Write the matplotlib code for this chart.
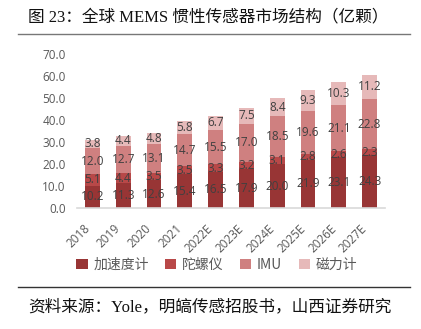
import matplotlib.pyplot as plt
import numpy as np

years = ['2018', '2019', '2020', '2021', '2022E', '2023E', '2024E', '2025E', '2026E', '2027E']
accel = [10.2, 11.3, 12.6, 15.4, 16.5, 17.9, 20.0, 21.9, 23.1, 24.3]
gyro = [5.1, 4.4, 3.5, 3.5, 3.3, 3.2, 3.1, 2.8, 2.6, 2.3]
imu = [12.0, 12.7, 13.1, 14.7, 15.5, 17.0, 18.5, 19.6, 21.1, 22.8]
mag = [3.8, 4.4, 4.8, 5.8, 6.7, 7.5, 8.4, 9.3, 10.3, 11.2]
names = ['加速度计', '陀螺仪', 'IMU', '磁力计']
colours = ['#983535', '#b84848', '#cf8080', '#e6b9b9']

cjk = ['Noto Sans CJK SC', 'DejaVu Sans']
serif_cjk = ['Liberation Serif', 'Noto Sans CJK SC']

fig = plt.figure(figsize=(4.21, 3.29), dpi=100)
ax = fig.add_axes([77/421, 121/329, 308/421, 154/329])

x = np.arange(len(years))
bottom = np.zeros(len(years))
for vals, name, col in zip([accel, gyro, imu, mag], names, colours):
    vals = np.array(vals)
    ax.bar(x, vals, 0.48, bottom=bottom, color=col, label=name)
    for xi, b, v in zip(x, bottom, vals):
        ax.text(xi, b + v / 2, f'{v:.1f}', ha='center', va='center',
                fontsize=8.5, color='#404040', family='Open Sans')
    bottom = bottom + vals

ax.set_xlim(-0.5, 9.5)
ax.set_ylim(0, 70)
ax.set_yticks(np.arange(0, 71, 10))
ax.set_yticklabels([f'{v:.1f}' for v in np.arange(0, 71, 10)],
                   fontsize=8.5, color='#595959', family='Open Sans')
ax.set_xticks(x)
ax.set_xticklabels(years, rotation=45, ha='right', fontsize=8.5,
                   color='#595959', family='Open Sans')
ax.tick_params(axis='both', length=0)
ax.tick_params(axis='x', pad=10)
ax.tick_params(axis='y', pad=8)
for s in ['top', 'right', 'left']:
    ax.spines[s].set_visible(False)
ax.spines['bottom'].set_color('#d9d9d9')
ax.spines['bottom'].set_linewidth(1.2)

fig.legend(loc='center', bbox_to_anchor=(0.515, 1 - 265/329), ncol=4, frameon=False,
           prop={'family': cjk, 'size': 10}, labelcolor='#595959',
           handlelength=0.8, handleheight=0.8, handletextpad=0.4, columnspacing=1.2)

fig.text(28/421, 1 - 17/329, '图 23：全球 MEMS 惯性传感器市场结构（亿颗）',
         ha='left', va='center', fontsize=12, family=serif_cjk, color='#111111')
fig.add_artist(plt.Line2D([18/421, 410/421], [1 - 34/329, 1 - 34/329],
                          color='#777777', lw=1.0))
fig.add_artist(plt.Line2D([18/421, 410/421], [1 - 287/329, 1 - 287/329],
                          color='#333333', lw=1.0))
fig.text(28/421, 1 - 307/329, '资料来源：Yole，明皜传感招股书，山西证券研究',
         ha='left', va='center', fontsize=12, family=serif_cjk, color='#111111')

fig.savefig('out.png', dpi=100)
